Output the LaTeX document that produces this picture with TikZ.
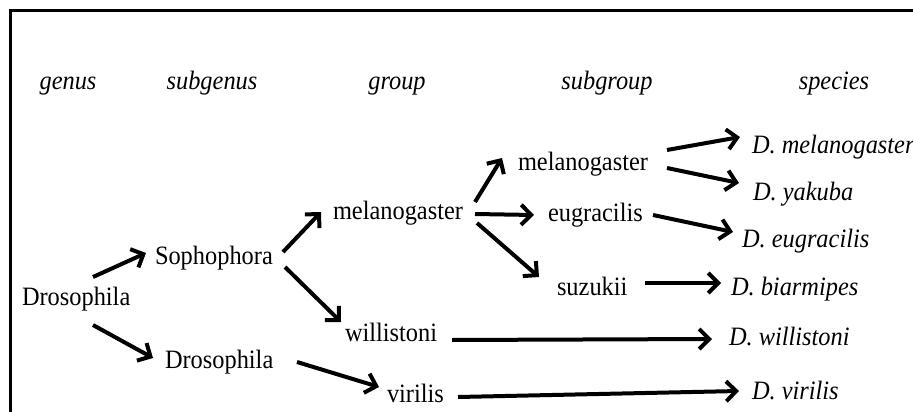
\documentclass[tikz,border=0pt]{standalone}
\usepackage{fontspec}
\setmainfont{Liberation Serif}[FakeStretch=0.92]
\usetikzlibrary{arrows.meta}
\tikzset{
  lbl/.style={inner sep=0pt, outer sep=0pt, anchor=base west, font=\fontsize{26.5}{30}\selectfont},
  hdr/.style={inner sep=0pt, anchor=base, font=\fontsize{26.5}{30}\selectfont\itshape},
  sp/.style={lbl, font=\fontsize{26.5}{30}\selectfont\itshape},
  arr/.style={line width=4pt, -{Straight Barb[length=10pt,width=20pt,line width=4pt]}},
  frame/.style={line width=3.5pt}
}
\begin{document}
\begin{tikzpicture}[x=1pt,y=-1pt]
\useasboundingbox[fill=white] (0,0) rectangle (913,412);
% frame
\coordinate (fl) at (10.5,412);
\coordinate (fc) at (10.5,10.5);
\coordinate (fr) at (913,10.5);
\draw[frame] (fl) -- (fc) -- (fr);
% headers
\node[hdr] (hgenus) at (68,89) {genus};
\node[hdr] (hsubgenus) at (212,89) {subgenus};
\node[hdr] (hgroup) at (397,89) {group};
\node[hdr] (hsubgroup) at (607,89) {subgroup};
\node[hdr] (hspecies) at (834,89) {species};
% taxa
\node[lbl] (gen) at (22,305) {Drosophila};
\node[lbl] (soph) at (155,264) {Sophophora};
\node[lbl] (dros) at (165,368) {Drosophila};
\node[lbl] (melg) at (333,219) {melanogaster};
\node[lbl] (will) at (345,341) {willistoni};
\node[lbl] (viril) at (387,402) {virilis};
\node[lbl] (mels) at (518,170) {melanogaster};
\node[lbl] (eug) at (548,221) {eugracilis};
\node[lbl] (suz) at (557,295) {suzukii};
% species
\node[sp] (dmel) at (752,153) {D. melanogaster};
\node[sp] (dyak) at (753,200) {D. yakuba};
\node[sp] (deug) at (742,247) {D. eugracilis};
\node[sp] (dbia) at (731,295) {D. biarmipes};
\node[sp] (dwil) at (729,345) {D. willistoni};
\node[sp] (dvir) at (752,399) {D. virilis};
% arrows
\draw[arr] ([shift={(71,-28)}]gen.base west) -- ([shift={(-9,-11)}]soph.base west);
\draw[arr] ([shift={(71,20)}]gen.base west) -- ([shift={(-12,-10)}]dros.base west);
\draw[arr] ([shift={(128,-12)}]soph.base west) -- ([shift={(-12,-7)}]melg.base west);
\draw[arr] ([shift={(130,3)}]soph.base west) -- ([shift={(-4,-19)}]will.base west);
\draw[arr] ([shift={(132,-6)}]dros.base west) -- ([shift={(-8,-15)}]viril.base west);
\draw[arr] ([shift={(142,-17)}]melg.base west) -- ([shift={(-16,-12)}]mels.base west);
\draw[arr] ([shift={(142,-5)}]melg.base west) -- ([shift={(-14,-6)}]eug.base west);
\draw[arr] ([shift={(144,4)}]melg.base west) -- ([shift={(-18,-18)}]suz.base west);
\draw[arr] ([shift={(149,-20)}]mels.base west) -- ([shift={(-12,-16)}]dmel.base west);
\draw[arr] ([shift={(149,-2)}]mels.base west) -- ([shift={(-14,-17)}]dyak.base west);
\draw[arr] ([shift={(105,-6)}]eug.base west) -- ([shift={(-9,-15)}]deug.base west);
\draw[arr] ([shift={(88,-12)}]suz.base west) -- ([shift={(-10,-12)}]dbia.base west);
\draw[arr] ([shift={(107,-1)}]will.base west) -- ([shift={(-17,-6)}]dwil.base west);
\draw[arr] ([shift={(71,-5)}]viril.base west) -- ([shift={(-13,-8)}]dvir.base west);
\end{tikzpicture}
\end{document}
